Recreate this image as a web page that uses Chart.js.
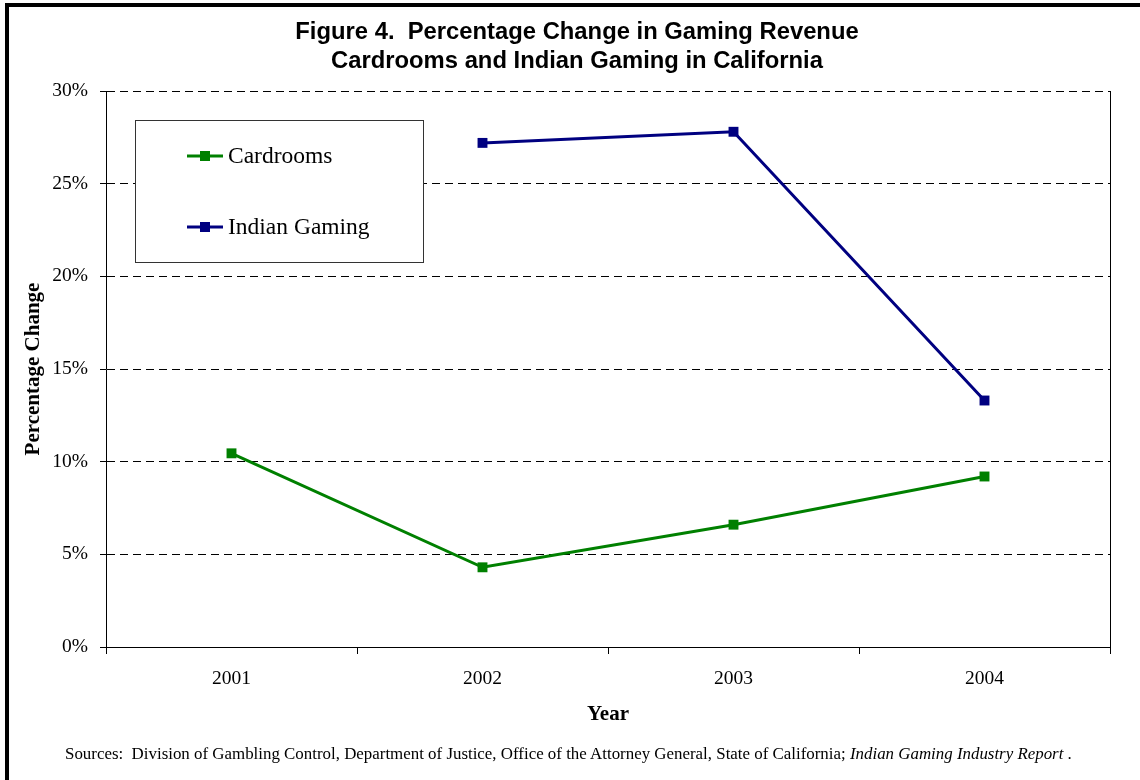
<!DOCTYPE html>
<html lang="en">
  <head>
    <meta charset="UTF-8" />
    <title>Figure 4. Percentage Change in Gaming Revenue</title>
    <script src="https://cdn.jsdelivr.net/npm/chart.js"></script>
    <style>
      html,
      body {
        margin: 0;
        padding: 0;
        background: #fff;
        overflow: hidden;
      }
      .frame {
        position: absolute;
        left: 5px;
        top: 3px;
        width: 1160px;
        height: 820px;
        border: 4px solid #000;
      }
      #chartCanvas {
        position: absolute;
        left: 0;
        top: 0;
      }
      .sources {
        position: absolute;
        left: 65px;
        top: 744px;
        font-family: "Liberation Serif", "Times New Roman", serif;
        font-size: 16.9px;
        line-height: 20px;
        color: #000;
        white-space: nowrap;
      }
    </style>
  </head>
  <body>
    <div class="frame"></div>
    <canvas id="chartCanvas" width="1140" height="780"></canvas>
    <div class="sources">
      Sources:&nbsp; Division of Gambling Control, Department of Justice, Office of the Attorney General, State of California; <i>Indian Gaming Industry Report</i> .
    </div>

    <script>
      const tahun = ["2001", "2002", "2003", "2004"];
      const cardrooms = [10.45, 4.3, 6.6, 9.2];
      const indianGaming = [null, 27.2, 27.8, 13.3];
      const judul = [
        "Figure 4.  Percentage Change in Gaming Revenue",
        "Cardrooms and Indian Gaming in California",
      ];

      const serif = "'Liberation Serif', 'Times New Roman', serif";

      // two-line heading across the top
      const judulPlugin = {
        id: "judul",
        afterDraw(chart) {
          const ctx = chart.ctx;
          ctx.save();
          ctx.fillStyle = "#000";
          ctx.font = "bold 23.8px 'Liberation Sans', Arial, sans-serif";
          ctx.textAlign = "center";
          ctx.textBaseline = "middle";
          ctx.fillText(judul[0], 577, 32);
          ctx.fillText(judul[1], 577, 61);
          ctx.restore();
        },
      };

      // boxed legend inside the plot, plus the solid right edge of the plot
      const legendaPlugin = {
        id: "legenda",
        beforeDatasetsDraw(chart) {
          const ctx = chart.ctx;
          const area = chart.chartArea;
          ctx.save();
          ctx.strokeStyle = "#000";
          ctx.lineWidth = 1;
          ctx.beginPath();
          ctx.moveTo(area.right + 0.5, area.top);
          ctx.lineTo(area.right + 0.5, area.bottom);
          ctx.stroke();

          ctx.fillStyle = "#fff";
          ctx.fillRect(135, 120, 288, 142);
          ctx.strokeStyle = "#333";
          ctx.strokeRect(135.5, 120.5, 288, 142);

          const baris = [156, 227];
          chart.data.datasets.forEach((ds, i) => {
            const y = baris[i];
            ctx.strokeStyle = ds.borderColor;
            ctx.lineWidth = 3;
            ctx.beginPath();
            ctx.moveTo(187, y);
            ctx.lineTo(223, y);
            ctx.stroke();
            ctx.fillStyle = ds.borderColor;
            ctx.fillRect(200, y - 5, 10, 10);
            ctx.fillStyle = "#000";
            ctx.font = "23.5px " + serif;
            ctx.textAlign = "left";
            ctx.textBaseline = "middle";
            ctx.fillText(ds.label, 228, y + 1);
          });
          ctx.restore();
        },
      };

      const ctx = document.getElementById("chartCanvas").getContext("2d");
      const chart = new Chart(ctx, {
        type: "line",
        data: {
          labels: tahun,
          datasets: [
            {
              label: "Cardrooms",
              data: cardrooms,
              borderColor: "#008000",
              backgroundColor: "#008000",
              borderWidth: 3,
              pointStyle: "rect",
              pointRadius: 7,
              pointBorderWidth: 0,
              tension: 0,
            },
            {
              label: "Indian Gaming",
              data: indianGaming,
              borderColor: "#000080",
              backgroundColor: "#000080",
              borderWidth: 3,
              pointStyle: "rect",
              pointRadius: 7,
              pointBorderWidth: 0,
              tension: 0,
            },
          ],
        },
        options: {
          responsive: false,
          animation: false,
          devicePixelRatio: 1,
          layout: {
            padding: { left: 0, right: 30, top: 91, bottom: 53 },
          },
          plugins: {
            legend: { display: false },
            title: { display: false },
            tooltip: { enabled: false },
          },
          scales: {
            x: {
              offset: true,
              grid: {
                offset: true,
                drawOnChartArea: false,
                drawTicks: true,
                tickLength: 7,
                tickColor: "#000",
                color: "#000",
              },
              border: { color: "#000", width: 1 },
              ticks: {
                color: "#000",
                padding: 13,
                font: { family: serif, size: 19.5 },
              },
              title: {
                display: true,
                text: "Year",
                color: "#000",
                padding: { top: 0, bottom: 0 },
                font: { family: serif, size: 21, weight: "bold" },
              },
              afterFit(scale) {
                scale.height = 80;
              },
            },
            y: {
              min: 0,
              max: 30,
              grid: {
                color: "#000",
                lineWidth: 1,
                tickLength: 6,
                tickColor: "#000",
                tickBorderDash: [],
              },
              border: { color: "#000", width: 1, dash: [8, 5] },
              ticks: {
                stepSize: 5,
                color: "#000",
                padding: 12,
                font: { family: serif, size: 19.5 },
                callback: (v) => v + "%",
              },
              title: {
                display: true,
                text: "Percentage Change",
                color: "#000",
                padding: { top: 21, bottom: 0 },
                font: { family: serif, size: 21, weight: "bold" },
              },
              afterFit(scale) {
                scale.width = 106;
              },
            },
          },
        },
        plugins: [legendaPlugin, judulPlugin],
      });
    </script>
  </body>
</html>
